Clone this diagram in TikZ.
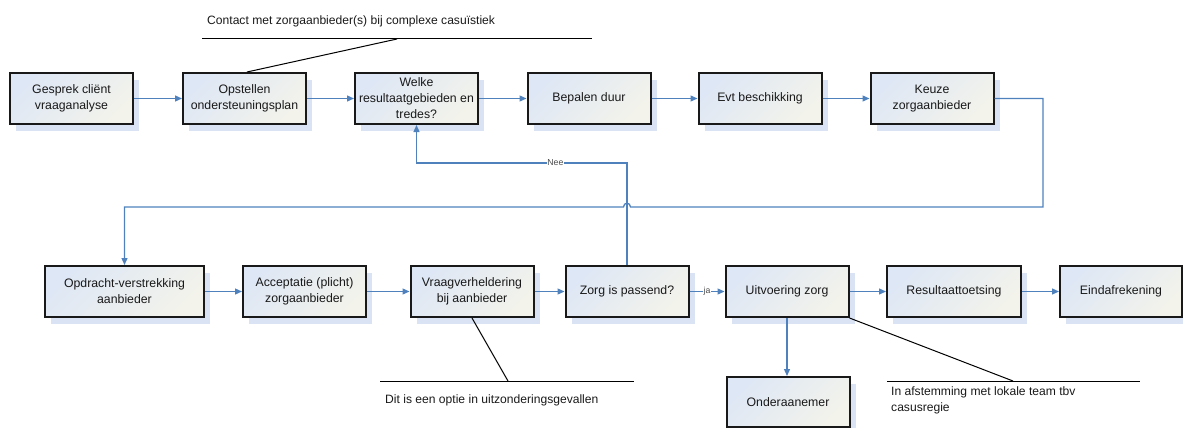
\documentclass[tikz,border=0pt]{standalone}
\usepackage{fontspec}
\setmainfont{Liberation Sans}
\usetikzlibrary{arrows.meta,shadows}
\definecolor{lineblue}{RGB}{79,129,189}
\definecolor{boxblue}{RGB}{222,231,245}
\definecolor{boxcream}{RGB}{243,243,235}
\definecolor{shadowc}{RGB}{218,227,243}
\definecolor{txt}{RGB}{25,25,25}
\tikzset{
  procbox/.style={draw=black!90, line width=2pt, top color=boxblue, bottom color=boxcream, shading angle=45,
    minimum width=123pt, minimum height=51pt, inner sep=1pt, align=center,
    font=\fontsize{12.3}{16}\selectfont, text=txt,
    drop shadow={shadow xshift=6pt, shadow yshift=-7pt, fill=shadowc, opacity=1}},
  flow/.style={draw=lineblue, line width=1.3pt, -{Triangle[length=7pt,width=6pt]}},
  note/.style={draw=black, line width=1pt},
  notetext/.style={font=\fontsize{12.1}{15.5}\selectfont, text=txt, inner sep=0pt},
  lbl/.style={font=\fontsize{8.7}{10}\selectfont, text=black!70, fill=white, inner sep=0.5pt}
}
\begin{document}
\begin{tikzpicture}[x=1pt,y=-1pt]
\useasboundingbox (0,0) rectangle (1183,428);
% top row
\node[procbox] (b1) at (71.5,98.5) {Gesprek cliënt\\vraaganalyse};
\node[procbox] (b2) at (244.5,98.5) {Opstellen\\ondersteuningsplan};
\node[procbox] (b3) at (416.5,98.5) {Welke\\resultaatgebieden en\\tredes?};
\node[procbox] (b4) at (589,98.5) {Bepalen duur};
\node[procbox] (b5) at (760,98.5) {Evt beschikking};
\node[procbox] (b6) at (932,98.5) {Keuze\\zorgaanbieder};
% bottom row
\node[procbox, minimum width=159pt] (c1) at (124.5,291.5) {Opdracht-verstrekking\\aanbieder};
\node[procbox] (c2) at (304.5,291.5) {Acceptatie (plicht)\\zorgaanbieder};
\node[procbox] (c3) at (472,291.5) {Vraagverheldering\\bij aanbieder};
\node[procbox] (c4) at (627,291.5) {Zorg is passend?};
\node[procbox] (c5) at (787,291.5) {Uitvoering zorg};
\node[procbox, minimum width=134pt] (c6) at (954,291.5) {Resultaattoetsing};
\node[procbox, minimum width=122pt] (c7) at (1121,291.5) {Eindafrekening};
\node[procbox, minimum height=50pt] (d1) at (788,402) {Onderaanemer};
% top row arrows
\draw[flow] (b1) -- (b2);
\draw[flow] (b2) -- (b3);
\draw[flow] (b3) -- (b4);
\draw[flow] (b4) -- (b5);
\draw[flow] (b5) -- (b6);
% long connector with hop
\coordinate (k1) at (1043,98.5);
\coordinate (k2) at (1043,207);
\coordinate (h1) at (630.5,207);
\coordinate (h2) at (623.5,207);
\coordinate (k3) at (124.5,207);
\draw[flow] (b6.east) -- (k1) -- (k2) -- (h1) .. controls (630.5,202) and (623.5,202) .. (h2) -- (k3) -- (c1.north);
% Nee loop
\coordinate (n1) at (627,163);
\coordinate (n2) at (416.5,163);
\draw[flow] (c4.north) -- (n1) -- node[lbl, pos=0.34] {Nee} (n2) -- (b3.south);
% bottom row arrows
\draw[flow] (c1) -- (c2);
\draw[flow] (c2) -- (c3);
\draw[flow] (c3) -- (c4);
\draw[flow] (c4) -- node[lbl] {ja} (c5);
\draw[flow] (c5) -- (c6);
\draw[flow] (c6) -- (c7);
\draw[flow] (c5.south) -- (c5.south |- d1.north);
% annotations
\node[notetext, anchor=west] (t1) at (207,21) {Contact met zorgaanbieder(s) bij complexe casuïstiek};
\coordinate (a1l) at (202,39);
\coordinate (a1r) at (592,39);
\coordinate (a1m) at (397,39);
\draw[note] (a1l) -- (a1r);
\draw[note] (a1m) -- ([xshift=2.5pt]b2.north);

\coordinate (a2l) at (380,381);
\coordinate (a2r) at (634,381);
\coordinate (a2m) at (508,381);
\draw[note] (a2l) -- (a2r);
\draw[note] (a2m) -- (c3.south);
\node[notetext, anchor=west] (t2) at (385,400) {Dit is een optie in uitzonderingsgevallen};

\coordinate (a3l) at (887,381);
\coordinate (a3r) at (1140,381);
\coordinate (a3m) at (1013,381);
\draw[note] (a3l) -- (a3r);
\draw[note] (a3m) -- (c5.south east);
\node[notetext, anchor=west, align=left] (t3) at (891,400.5) {In afstemming met lokale team tbv\\casusregie};
\end{tikzpicture}
\end{document}
